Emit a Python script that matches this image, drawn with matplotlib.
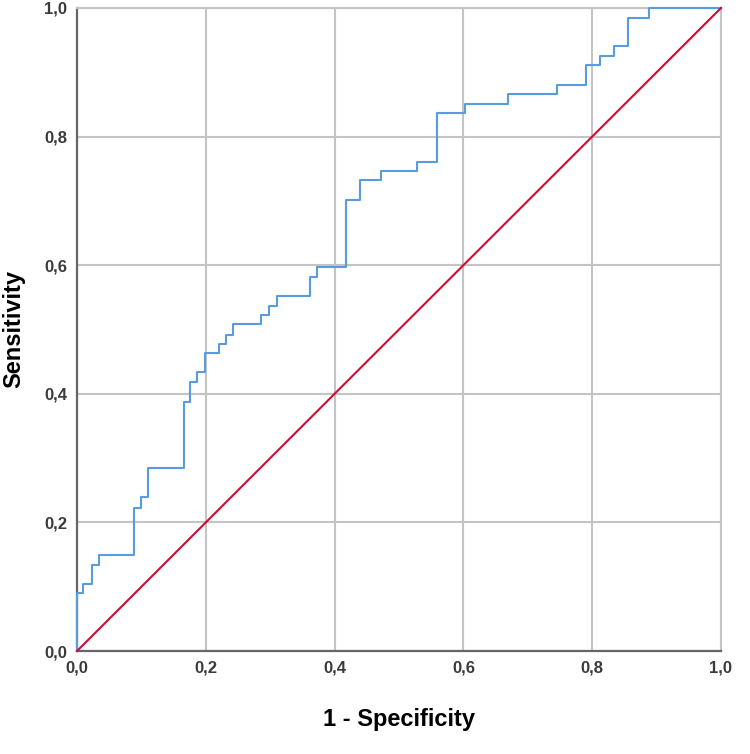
import matplotlib
matplotlib.use("Agg")
import matplotlib.pyplot as plt
from matplotlib.ticker import FuncFormatter

# ROC curve (steps-post corners)
fpr = [0, 0, 0.0093, 0.023, 0.034, 0.088, 0.099, 0.110, 0.166, 0.176, 0.187, 0.198,
       0.220, 0.231, 0.242, 0.285, 0.298, 0.310, 0.362, 0.373, 0.417, 0.440, 0.472,
       0.528, 0.559, 0.603, 0.670, 0.746, 0.790, 0.812, 0.834, 0.856, 0.889, 1.0]
tpr = [0, 0.090, 0.104, 0.134, 0.149, 0.223, 0.240, 0.284, 0.387, 0.418, 0.434, 0.463,
       0.477, 0.492, 0.508, 0.522, 0.536, 0.552, 0.582, 0.597, 0.701, 0.732, 0.746,
       0.761, 0.836, 0.850, 0.866, 0.881, 0.911, 0.925, 0.941, 0.985, 1.0, 1.0]

ref_line = [0, 1]
ticks = [0, 0.2, 0.4, 0.6, 0.8, 1.0]

plt.rcParams['font.family'] = ['Liberation Sans', 'DejaVu Sans']

fig = plt.figure(figsize=(7.5, 7.54), dpi=100)
ax = fig.add_axes([0.1027, 0.1366, 0.8586, 0.8528])

grid_col = '#c4c4c4'
ax.set_xlim(0, 1)
ax.set_ylim(0, 1)
ax.set_xticks(ticks)
ax.set_yticks(ticks)
ax.grid(True, color=grid_col, linewidth=1.5)
ax.set_axisbelow(True)

ax.plot(fpr, tpr, drawstyle='steps-post', color='#5a9be0', linewidth=1.5, zorder=3, clip_on=False)
ax.plot(ref_line, ref_line, color='#d20a32', linewidth=1.5, zorder=4, clip_on=False)

fmt = FuncFormatter(lambda v, p: f"{v:.1f}".replace('.', ','))
ax.xaxis.set_major_formatter(fmt)
ax.yaxis.set_major_formatter(fmt)
ax.tick_params(length=0, labelsize=12, labelcolor='#3a3a3a', pad=7)
for lab in ax.get_xticklabels() + ax.get_yticklabels():
    lab.set_fontweight('bold')

for s in ['left', 'bottom']:
    ax.spines[s].set_color('#666666')
    ax.spines[s].set_linewidth(1.6)
for s in ['top', 'right']:
    ax.spines[s].set_color(grid_col)
    ax.spines[s].set_linewidth(1.5)

ax.set_xlabel('1 - Specificity', fontsize=17, fontweight='bold', labelpad=23)
ax.set_ylabel('Sensitivity', fontsize=17, fontweight='bold', labelpad=14)

fig.savefig('out.png', dpi=100)
